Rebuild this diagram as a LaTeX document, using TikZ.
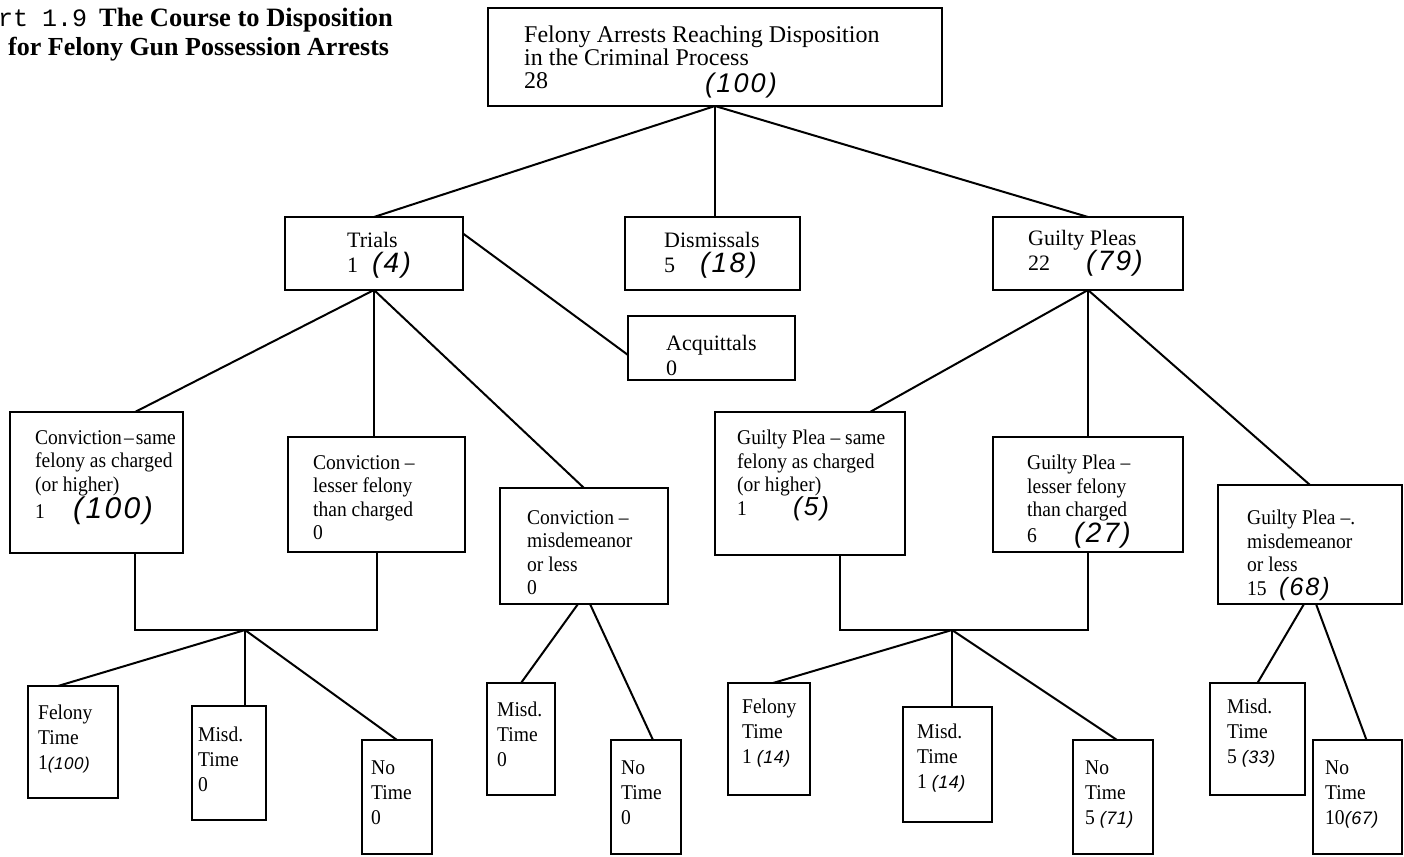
\documentclass[tikz,border=0pt]{standalone}
\usepackage{fontspec}
\setmainfont{Liberation Serif}
\newfontfamily\boxf{Liberation Serif}[FakeStretch=0.93]
\newfontfamily\monof{Liberation Mono}
\newfontfamily\handf{Liberation Sans}[LetterSpace=8]
\newfontfamily\handsf{Liberation Sans}[LetterSpace=3]
\usetikzlibrary{calc}
\newcommand\hn[2][28]{{\handf\itshape\fontsize{#1}{20}\selectfont #2}}
\newcommand\hs[2][18]{{\handsf\itshape\fontsize{#1}{20}\selectfont #2}}
\newcommand\mkbox[5]{\node[bx, minimum width={(#4-#2)*1pt}, minimum height={(#5-#3)*1pt}] (#1) at (#2,#3) {};}
\tikzset{
  bx/.style={draw, line width=1.7pt, inner sep=0pt, outer sep=0pt, anchor=north west},
  tx/.style={anchor=north west, inner sep=0pt, align=left, font=\boxf\fontsize{21}{23.5}\selectfont},
  tx2/.style={tx, font=\fontsize{22}{25.5}\selectfont},
  txs/.style={tx, font=\boxf\fontsize{21}{25}\selectfont},
  ln/.style={line width=2pt},
}
\begin{document}
\begin{tikzpicture}[x=1pt,y=-1pt]
\useasboundingbox (0,0) rectangle (1404,856);
% title
\node[anchor=base west, inner sep=0pt] (ttl1) at (-2,27) {{\monof\fontsize{25}{25}\selectfont rt\hspace{14pt}1.9}\hspace{12pt}{\bfseries\fontsize{26.5}{26}\selectfont The Course to Disposition}};
\node[anchor=base west, inner sep=0pt] (ttl2) at (8,56) {\bfseries\fontsize{26}{26}\selectfont for Felony Gun Possession Arrests};
% boxes
\mkbox{top}{488}{8}{942}{106}
\mkbox{tri}{285}{217}{463}{290}
\mkbox{dis}{625}{217}{800}{290}
\mkbox{gp}{993}{217}{1183}{290}
\mkbox{acq}{628}{316}{795}{380}
\mkbox{cs}{10}{412}{183}{553}
\mkbox{cl}{288}{437}{465}{552}
\mkbox{cm}{500}{488}{668}{604}
\mkbox{gs}{715}{412}{905}{555}
\mkbox{gl}{993}{437}{1183}{552}
\mkbox{gm}{1218}{485}{1402}{604}
\mkbox{fa}{28}{686}{118}{798}
\mkbox{ma}{192}{706}{266}{820}
\mkbox{na}{362}{740}{432}{854}
\mkbox{mb}{487}{683}{555}{795}
\mkbox{nb}{611}{740}{681}{854}
\mkbox{fc}{728}{683}{810}{795}
\mkbox{mc}{903}{707}{992}{822}
\mkbox{nc}{1073}{740}{1153}{854}
\mkbox{md}{1210}{683}{1305}{795}
\mkbox{nd}{1313}{740}{1402}{854}
% texts
\node[tx, font=\fontsize{24}{23}\selectfont] (ttop) at (524,26) {Felony Arrests Reaching Disposition\\in the Criminal Process\\\makebox[181pt][l]{28}\raisebox{-4pt}{\hn[27]{(100)}}};
\node[tx2] (ttri) at (347,232) {Trials\\\makebox[25pt][l]{1}\hn{(4)}};
\node[tx2] (tdis) at (664,232) {Dismissals\\\makebox[36pt][l]{5}\hn{(18)}};
\node[tx2] (tgp) at (1028,230) {Guilty Pleas\\\makebox[58pt][l]{22}\hn{(79)}};
\node[tx2] (tacq) at (666,335) {Acquittals\\0};
\node[tx] (tcs) at (35,430) {Conviction\kern2pt–\kern2pt same\\felony as charged\\(or higher)\\\makebox[38pt][l]{1}\hn[30]{(100)}};
\node[tx] (tcl) at (313,455) {Conviction –\\lesser felony\\than charged\\0};
\node[tx] (tcm) at (527,510) {Conviction –\\misdemeanor\\or less\\0};
\node[tx] (tgs) at (737,430) {Guilty Plea – same\\felony as charged\\(or higher)\\\makebox[56pt][l]{1}\hn[26]{(5)}};
\node[tx] (tgl) at (1027,455) {Guilty Plea –\\lesser felony\\than charged\\\makebox[47pt][l]{6}\hn{(27)}};
\node[tx] (tgm) at (1247,510) {Guilty Plea –.\\misdemeanor\\or less\\\makebox[32pt][l]{15}\hn[25]{(68)}};
\node[txs] (tfa) at (38,705) {Felony\\Time\\1\hs[17]{(100)}};
\node[txs] (tma) at (198,727) {Misd.\\Time\\0};
\node[txs] (tna) at (371,761) {No\\Time\\0};
\node[txs] (tmb) at (497,702) {Misd.\\Time\\0};
\node[txs] (tnb) at (621,761) {No\\Time\\0};
\node[txs] (tfc) at (742,699) {Felony\\Time\\1 \hs{(14)}};
\node[txs] (tmc) at (917,724) {Misd.\\Time\\1 \hs{(14)}};
\node[txs] (tnc) at (1085,761) {No\\Time\\5 \hs{(71)}};
\node[txs] (tmd) at (1227,699) {Misd.\\Time\\5 \hs{(33)}};
\node[txs] (tnd) at (1325,761) {No\\Time\\10\hs{(67)}};
% bar coordinates
\coordinate (b1l) at (135,630);
\coordinate (b1r) at (376.5,630);
\coordinate (b1m) at (245,630);
\coordinate (b2l) at (840,630);
\coordinate (b2r) at (1088,630);
\coordinate (b2m) at (952,630);
% connectors
\draw[ln] (top.south) -- (tri.north);
\draw[ln] (top.south) -- (top.south |- dis.north);
\draw[ln] (top.south) -- (gp.north);
\draw[ln] (tri.south) -- ([xshift=125pt]cs.north west);
\draw[ln] (tri.south) -- (tri.south |- cl.north);
\draw[ln] (tri.south) -- (cm.north);
\draw[ln] ([yshift=20pt]tri.east) -- ([yshift=-7pt]acq.west);
\draw[ln] (gp.south) -- ([xshift=155pt]gs.north west);
\draw[ln] (gp.south) -- (gl.north);
\draw[ln] (gp.south) -- ([xshift=92pt]gm.north west);
\draw[ln] (cs.south -| b1l) -- (b1l) -- (b1r) -- (cl.south);
\draw[ln] (b1m) -- ([xshift=30pt]fa.north west);
\draw[ln] (b1m) -- (b1m |- ma.north);
\draw[ln] (b1m) -- (na.north);
\draw[ln] ([xshift=-6pt]cm.south) -- (mb.north);
\draw[ln] ([xshift=6pt]cm.south) -- ([xshift=7pt]nb.north);
\draw[ln] (gs.south -| b2l) -- (b2l) -- (b2r) -- (gl.south);
\draw[ln] (b2m) -- ([xshift=4pt]fc.north);
\draw[ln] (b2m) -- (b2m |- mc.north);
\draw[ln] (b2m) -- ([xshift=4pt]nc.north);
\draw[ln] ([xshift=-6pt]gm.south) -- (md.north);
\draw[ln] ([xshift=6pt]gm.south) -- ([xshift=9pt]nd.north);
\end{tikzpicture}
\end{document}
